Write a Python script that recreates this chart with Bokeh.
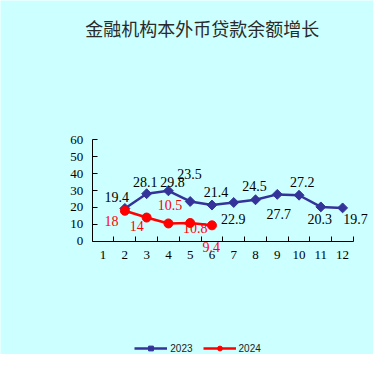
import math
from bokeh.plotting import figure
from bokeh.models import (Range1d, FixedTicker, LabelSet, Label, ColumnDataSource,
                          Legend, LegendItem)
from bokeh.embed import file_html
from bokeh.resources import INLINE
from bokeh.core.properties import value

# ---- data ----
title_text = "金融机构本外币贷款余额增长"
month_ticks = [1, 2, 3, 4, 5, 6, 7, 8, 9, 10, 11, 12]
month_labels = ["1", "2", "3", "4", "5", "6", "7", "8", "9", "10", "11", "12"]
y_ticks = [0, 10, 20, 30, 40, 50, 60]

months_2023 = [2, 3, 4, 5, 6, 7, 8, 9, 10, 11, 12]
values_2023 = [19.4, 28.1, 29.8, 23.5, 21.4, 22.9, 24.5, 27.7, 27.2, 20.3, 19.7]
labels_2023 = ["19.4", "28.1", "29.8", "23.5", "21.4", "22.9", "24.5", "27.7", "27.2", "20.3", "19.7"]

months_2024 = [2, 3, 4, 5, 6]
values_2024 = [18, 14, 10.5, 10.8, 9.4]
labels_2024 = ["18", "14", "10.5", "10.8", "9.4"]

# label placement offsets (pixels)
dx_2023 = [-8, -1.5, 4, -0.7, 4, -0.5, -1, 1.5, 3.3, -1, 13]
dy_2023 = [11, 12, 9, 27, 13.5, -17, 14, -19.5, 13, -12, -11]
dx_2024 = [-13.4, -10, 1.7, 5, -0.7]
dy_2024 = [-10.7, -8, 18.8, -5, -22]

BG = "#ccffff"
BLUE = "#333399"
RED = "#ff0000"
NUM_FONT = "Liberation Serif"

W, H = 373, 354
# axis extents on the canvas (px): x 0.5..12.5 -> XL..XR ; y 0..60 -> YB..YT (from top)
XL, XR = 91.7, 353.0
YB, YT = 240.7, 139.3
xs = (XR - XL) / 12.0
ys = (YB - YT) / 60.0
x_range = Range1d(0.5 - XL / xs, 12.5 + (W - XR) / xs)
y_range = Range1d(0 - (H - YB) / ys, 60 + YT / ys)

p = figure(width=W, height=H, output_backend="svg", toolbar_location=None,
           x_range=x_range, y_range=y_range,
           min_border_left=0, min_border_right=0, min_border_top=0,
           min_border_bottom=0)
p.background_fill_color = BG
p.border_fill_color = BG
p.outline_line_color = None
p.grid.grid_line_color = None

# x axis: labels at month centres, tick marks at boundaries (minor ticks)
p.xaxis.fixed_location = 0
p.xaxis.bounds = (0.5, 12.5)
p.xaxis.ticker = FixedTicker(ticks=month_ticks,
                             minor_ticks=[m + 0.5 for m in month_ticks])
p.xaxis.major_label_overrides = {m: l for m, l in zip(month_ticks, month_labels)}
p.xaxis.major_tick_in = 0
p.xaxis.major_tick_out = 0
p.xaxis.minor_tick_in = 5
p.xaxis.minor_tick_out = 0
p.xaxis.minor_tick_line_color = "black"
p.xaxis.axis_line_color = "black"
p.xaxis.major_label_standoff = 10
p.xaxis.major_label_text_font = NUM_FONT
p.xaxis.major_label_text_font_size = "13px"
p.xaxis.major_label_text_color = "black"

p.yaxis.fixed_location = 0.5
p.yaxis.bounds = (0, 60)
p.yaxis.ticker = FixedTicker(ticks=y_ticks)
p.yaxis.major_tick_in = 5
p.yaxis.major_tick_out = 0
p.yaxis.minor_tick_in = 0
p.yaxis.minor_tick_out = 0
p.yaxis.minor_tick_line_color = None
p.yaxis.axis_line_color = "black"
p.yaxis.major_tick_line_color = "black"
p.yaxis.major_label_standoff = 9
p.yaxis.major_label_text_font = NUM_FONT
p.yaxis.major_label_text_font_size = "13px"
p.yaxis.major_label_text_color = "black"

src23 = ColumnDataSource(dict(x=months_2023, y=values_2023, t=labels_2023,
                              dx=dx_2023, dy=dy_2023))
src24 = ColumnDataSource(dict(x=months_2024, y=values_2024, t=labels_2024,
                              dx=dx_2024, dy=dy_2024))

l23 = p.line("x", "y", source=src23, line_color=BLUE, line_width=2.5)
s23 = p.scatter("x", "y", source=src23, marker="square", angle=math.pi / 4,
                size=7, fill_color=BLUE, line_color=BLUE)
l24 = p.line("x", "y", source=src24, line_color=RED, line_width=2.5)
s24 = p.scatter("x", "y", source=src24, marker="circle", size=9,
                fill_color=RED, line_color=RED)

p.add_layout(LabelSet(x="x", y="y", text="t", x_offset="dx", y_offset="dy",
                      source=src23, text_align="center", text_baseline="middle",
                      text_font=value(NUM_FONT), text_font_size="14px",
                      text_color="black"))
p.add_layout(LabelSet(x="x", y="y", text="t", x_offset="dx", y_offset="dy",
                      source=src24, text_align="center", text_baseline="middle",
                      text_font=value(NUM_FONT), text_font_size="14px",
                      text_color=RED))

p.add_layout(Label(x=201.7, y=H - 27, x_units="screen", y_units="screen",
                   text=title_text, text_align="center", text_baseline="middle",
                   text_font="Noto Sans CJK SC", text_font_size="18px",
                   text_color="#2a2a2a"))

legend = Legend(items=[LegendItem(label="2023", renderers=[l23, s23]),
                       LegendItem(label="2024", renderers=[l24, s24])],
                location=(134.3, 0), orientation="horizontal",
                padding=0, margin=0, spacing=10, glyph_width=33, glyph_height=12,
                label_height=12, label_standoff=3, label_text_font="Liberation Sans",
                label_text_font_size="10px", label_text_color="#222222",
                border_line_color=None, background_fill_alpha=0)
p.add_layout(legend)

open("out.html", "w").write(file_html(p, INLINE))
